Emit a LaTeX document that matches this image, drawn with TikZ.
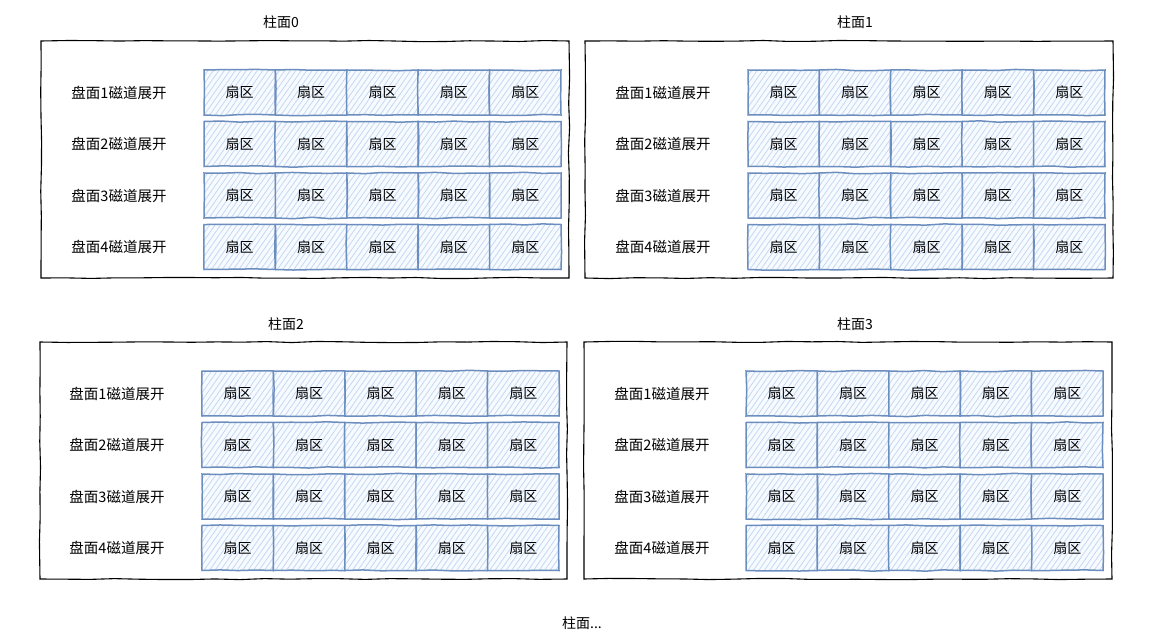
\documentclass[tikz,border=0pt]{standalone}
\usepackage{fontspec}
\setmainfont{Noto Sans CJK SC}
\usetikzlibrary{patterns.meta,decorations.pathmorphing}
\definecolor{cellstroke}{HTML}{6C8EBF}
\definecolor{cellfill}{HTML}{DAE8FC}
\definecolor{hatch}{HTML}{C4D8F4}
\begin{document}
\begin{tikzpicture}[x=1pt,y=-1pt,
  txt/.style={font=\fontsize{14}{16}\selectfont, inner sep=0pt},
  lbl/.style={font=\fontsize{14.5}{16}\selectfont, inner sep=0pt},
  panel/.style={draw=black, line width=1.1pt, decorate, decoration={random steps, segment length=25pt, amplitude=0.6pt}},
  cell/.style={draw=cellstroke, line width=1.5pt, minimum width=71.4pt, minimum height=45pt, inner sep=0pt,
    font=\fontsize{14}{16}\selectfont,
    pattern={Lines[angle=55,distance=4.5pt,line width=0.8pt]}, pattern color=hatch,
    decorate, decoration={random steps, segment length=18pt, amplitude=0.7pt}}]
\useasboundingbox (0,0) rectangle (1164,642);
\pgfmathsetseed{7}
\foreach \p/\xa/\ya/\xb/\yb/\cx/\cy/\lx/\tx/\ty in {
  0/41/41/569/278/204/70/119/281/22,
  1/585/41/1113/278/748/70/663/855/22,
  2/40/342/567/579/202/371/117/286/324,
  3/584/342/1112/579/746/371/662/855/324}{
  \node[draw=none, minimum width={\xb-\xa}, minimum height={\yb-\ya}, inner sep=0pt] (panel\p) at ({(\xa+\xb)/2},{(\ya+\yb)/2}) {};
  \draw[panel] (\xa,\ya) rectangle (\xb,\yb);
  \node[txt] (title\p) at (\tx,\ty) {柱面\p};
  \foreach \r [evaluate=\r as \yy using {\cy+22.5+(\r-1)*51.5}] in {1,2,3,4}{
    \node[lbl] (label\p-\r) at (\lx,\yy) {盘面\r 磁道展开};
    \foreach \k [evaluate=\k as \xx using {\cx+35.7+(\k-1)*71.4}] in {1,...,5}{
      \fill[cellfill!22] ({\xx-35.7},{\yy-22.5}) rectangle ({\xx+35.7},{\yy+22.5});
      \node[cell] (cell\p-\r-\k) at (\xx,\yy) {扇区};
    }
  }
}
\node[txt] (more) at (582,623) {柱面...};
\end{tikzpicture}
\end{document}
